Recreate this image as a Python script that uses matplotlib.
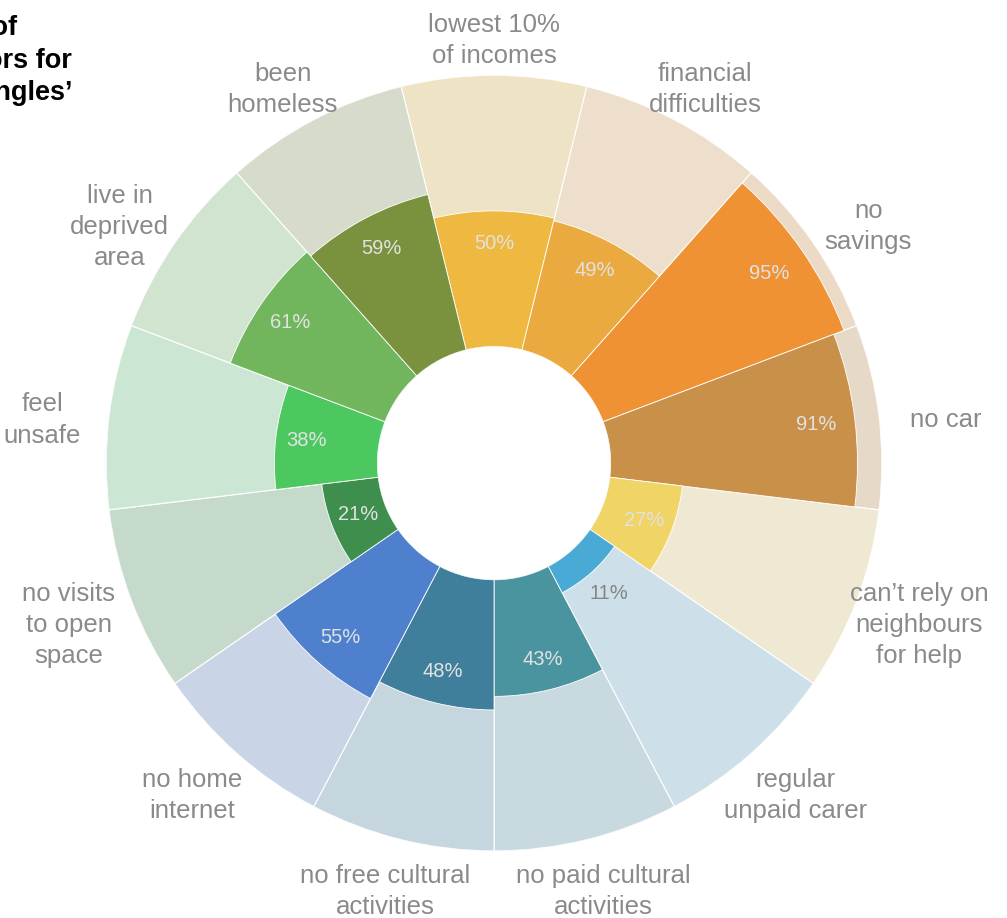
import numpy as np
import matplotlib
matplotlib.use("Agg")
import matplotlib.pyplot as plt

plt.rcParams['font.family'] = ['Liberation Sans', 'DejaVu Sans']

categories = ["lowest 10%\nof incomes", "financial\ndifficulties", "no\nsavings", "no car",
              "can\u2019t rely on\nneighbours\nfor help", "regular\nunpaid carer",
              "no paid cultural\nactivities", "no free cultural\nactivities", "no home\ninternet",
              "no visits\nto open\nspace", "feel\nunsafe", "live in\ndeprived\narea", "been\nhomeless"]
values = [50, 49, 95, 91, 27, 11, 43, 48, 55, 21, 38, 61, 59]
bar_colors = ["#EFB840", "#EAAA40", "#EE9234", "#C9904A", "#F0D466", "#4AAAD6", "#4A94A0",
              "#3F7F9C", "#4F80CE", "#3E8F4D", "#4DC860", "#71B65C", "#7A913D"]
bg_colors = ["#EFE3C6", "#EDDFCB", "#EBDAC6", "#E6D9C8", "#EFE8D2", "#CDDFE8", "#C8DADF",
             "#C6D6DE", "#C9D4E6", "#C6DACC", "#CBE6D2", "#D1E4CF", "#D6DBCB"]
title_lines = ["Prevalence of", "risk factors for", "\u2018Struggling Singles\u2019"]

fig = plt.figure(figsize=(10.07, 9.18), dpi=100)
ax = fig.add_axes([0.1053, 0.073, 0.7706, 0.845], projection='polar')
ax.set_theta_zero_location('N')
ax.set_theta_direction(-1)
ax.set_ylim(0, 100)
ax.set_rorigin(-43)
ax.axis('off')

n = len(values)
theta = np.arange(n) * 2 * np.pi / n
width = 2 * np.pi / n

ax.bar(theta, [100] * n, width=width, bottom=0, color=bg_colors, edgecolor='white', linewidth=0.8)
ax.bar(theta, values, width=width, bottom=0, color=bar_colors, edgecolor='white', linewidth=0.6)

for t, v, lab in zip(theta, values, categories):
    if v < 15:
        ax.text(t, v + 10, f"{v}%", ha='center', va='center', fontsize=14.5, color='#858585')
    else:
        ax.text(t, v * 0.94 - 9, f"{v}%", ha='center', va='center', fontsize=14.5, color='#E2E2E2')
    # category label placed just outside the outer ring (elliptical offset in pixels)
    off = (67 * np.sin(t), 44 * np.cos(t) - 9)
    ax.annotate(lab, xy=(t, 100), xytext=off, textcoords='offset pixels',
                ha='center', va='center', fontsize=18.5, color='#8A8A8A',
                linespacing=1.38, annotation_clip=False)

ends = [17, 72, 72]
ys = [35, 68, 100]
for line, xe, yb in zip(title_lines, ends, ys):
    fig.text(xe / 1007, 1 - yb / 918, line, ha='right', va='baseline', fontsize=19.5,
             fontweight='bold', color='black')

fig.savefig("out.png", dpi=100)
